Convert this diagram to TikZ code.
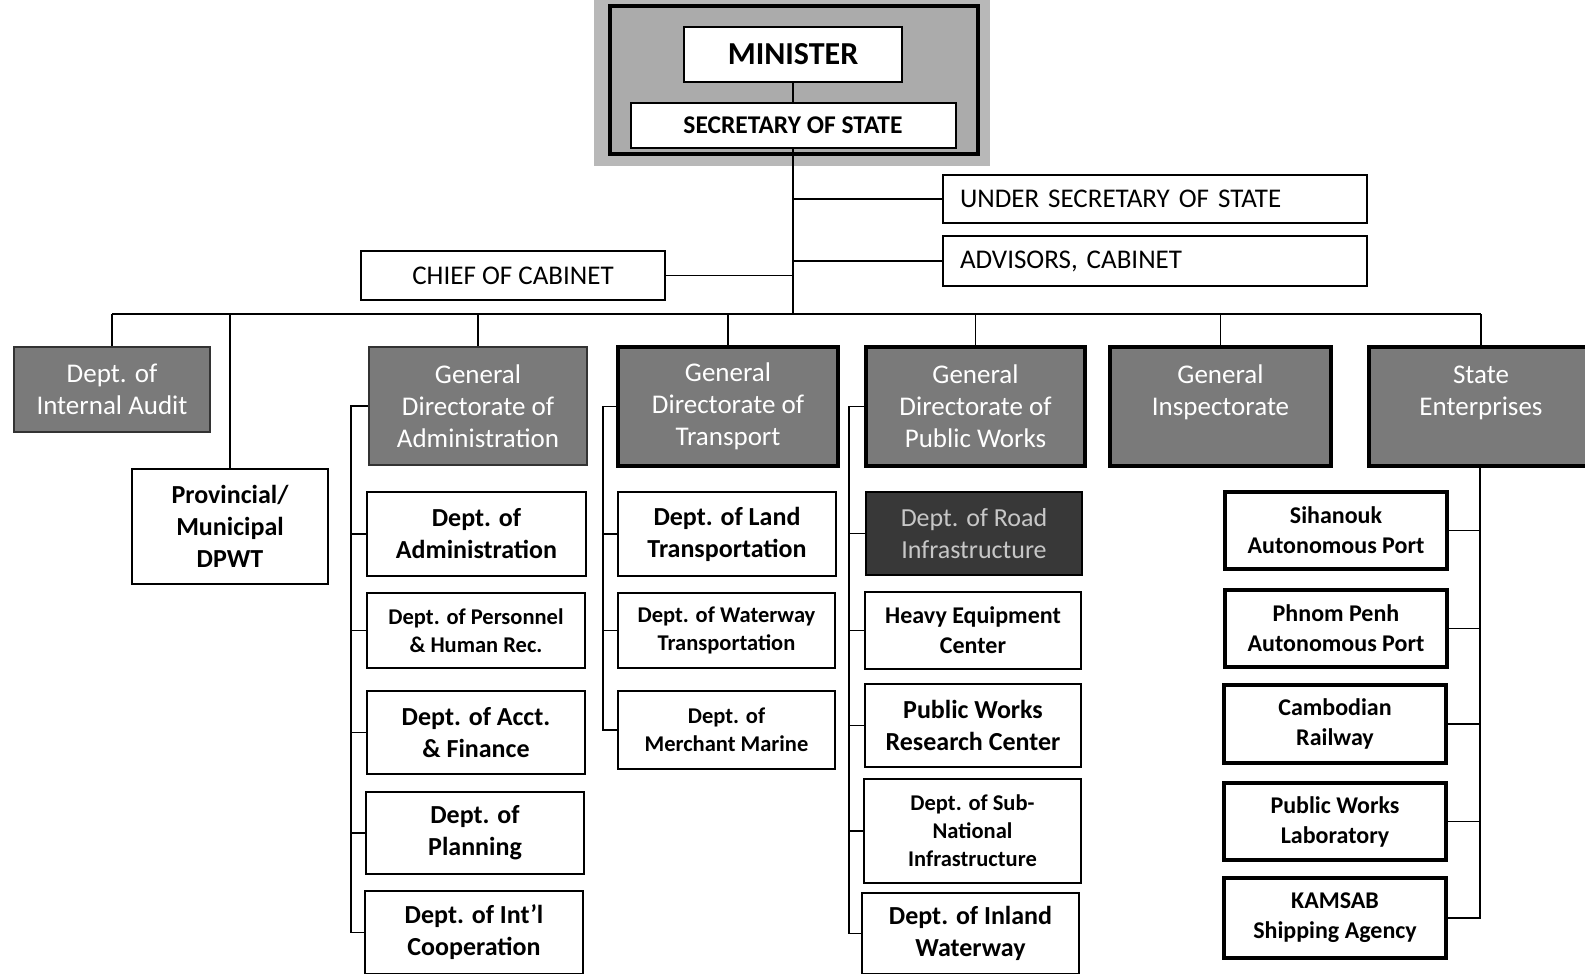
\documentclass[tikz,border=0pt]{standalone}
\usepackage{fontspec}
\setmainfont{Carlito}
\begin{document}
\begin{tikzpicture}[x=1pt,y=-1pt,
  box/.style={draw=black,line width=2pt,fill=white,align=center,inner sep=0pt,text=black},
  thickbox/.style={box,line width=3.2pt},
  capbox/.style={box,font=\fontsize{27}{32}\selectfont},
  greybox/.style={draw=black,line width=3.2pt,fill=black!52,align=center,inner sep=0pt,text=white,font=\fontsize{27}{32}\selectfont},
  greythin/.style={greybox,line width=2pt,draw=black!80},
  darkbox/.style={greybox,line width=2pt,fill=black!78,text=black!22},
  conn/.style={line width=1.6pt,draw=black},
  big/.style={font=\fontsize{26}{32}\selectfont\bfseries},
  mid/.style={font=\fontsize{24}{30}\selectfont\bfseries},
  small/.style={font=\fontsize{22.5}{28}\selectfont\bfseries},
]
\useasboundingbox (0,0) rectangle (1585,974);
\clip (0,0) rectangle (1585,974);
\fill[white] (0,0) rectangle (1585,974);

% top block
\node[fill=black!28,minimum width=396pt,minimum height=166pt,inner sep=0pt] (halo) at (792,83) {};
\node[draw=black,line width=4pt,fill=black!33,minimum width=368pt,minimum height=148pt,inner sep=0pt] (top) at (794,80) {};
\node[box,minimum width=218pt,minimum height=55pt,font=\fontsize{32}{38}\selectfont\bfseries] (min) at (793,54.5) {MINISTER};
\node[box,minimum width=325pt,minimum height=45pt,font=\fontsize{25.5}{30}\selectfont\bfseries] (sec) at (793,125.5) {SECRETARY OF STATE};

\node[capbox,minimum width=424pt,minimum height=48pt,text width=390pt,inner xsep=17pt,align=left] (under) at (1155,199) {UNDER SECRETARY OF STATE};
\node[capbox,minimum width=424pt,minimum height=50pt,text width=390pt,inner xsep=17pt,align=left] (adv) at (1155,261) {ADVISORS, CABINET};
\node[capbox,minimum width=304pt,minimum height=49pt] (chief) at (513,275.5) {CHIEF OF CABINET};

\coordinate (bus) at (0,314);
\coordinate (trunk) at (793,0);

% level 2 boxes
\node[greythin,minimum width=196pt,minimum height=85pt] (audit) at (112,389.5) {Dept. of\\Internal Audit};
\node[box,minimum width=196pt,minimum height=115pt,big] (prov) at (230,526.5) {Provincial/\\Municipal\\DPWT};
\node[greythin,minimum width=218pt,minimum height=118pt] (gda) at (478,406) {General\\Directorate of\\Administration};
\node[greybox,minimum width=220pt,minimum height=119pt] (gdt) at (728,406.5) {General\\Directorate of\\Transport};
\node[greybox,minimum width=219pt,minimum height=119pt] (gdp) at (975.5,406.5) {General\\Directorate of\\Public Works};
\node[greybox,minimum width=221pt,minimum height=119pt] (gi) at (1220.5,406.5) {General\\Inspectorate\\\mbox{}};
\node[greybox,minimum width=224pt,minimum height=119pt] (se) at (1481,406.5) {State\\Enterprises\\\mbox{}};

% administration children
\node[box,minimum width=219pt,minimum height=84pt,big] (a1) at (476.5,534) {Dept. of\\Administration};
\node[box,minimum width=218pt,minimum height=75pt,small] (a2) at (476,630.5) {Dept. of Personnel\\\& Human Rec.};
\node[box,minimum width=218pt,minimum height=83pt,big] (a3) at (476,732.5) {Dept. of Acct.\\\& Finance};
\node[box,minimum width=218pt,minimum height=82pt,big] (a4) at (475,833) {Dept. of\\Planning};
\node[box,minimum width=218pt,minimum height=83pt,big] (a5) at (474,932.5) {Dept. of Int'l\\Cooperation};

% transport children
\node[box,minimum width=218pt,minimum height=84pt,big] (t1) at (727,534) {Dept. of Land\\Transportation};
\node[box,minimum width=217pt,minimum height=75pt,small] (t2) at (726.5,630.5) {Dept. of Waterway\\Transportation};
\node[box,minimum width=217pt,minimum height=78pt,small] (t3) at (726.5,730) {Dept. of\\Merchant Marine};

% public works children
\node[darkbox,minimum width=216pt,minimum height=83pt,font=\fontsize{26}{32}\selectfont] (p1) at (974,533.5) {Dept. of Road\\Infrastructure};
\node[box,minimum width=216pt,minimum height=77pt,mid] (p2) at (973,630.5) {Heavy Equipment\\Center};
\node[box,minimum width=216pt,minimum height=83pt,big] (p3) at (973,725.5) {Public Works\\Research Center};
\node[box,minimum width=217pt,minimum height=104pt,small] (p4) at (972.5,831) {Dept. of Sub-\\National\\Infrastructure};
\node[box,minimum width=217pt,minimum height=81pt,big] (p5) at (970.5,933.5) {Dept. of Inland\\Waterway};

% state enterprises children
\node[thickbox,minimum width=222pt,minimum height=77pt,mid] (s1) at (1336,530.5) {Sihanouk\\Autonomous Port};
\node[thickbox,minimum width=222pt,minimum height=77pt,mid] (s2) at (1336,628.5) {Phnom Penh\\Autonomous Port};
\node[thickbox,minimum width=222pt,minimum height=78pt,mid] (s3) at (1335,724) {Cambodian\\Railway};
\node[thickbox,minimum width=222pt,minimum height=77pt,mid] (s4) at (1335,821.5) {Public Works\\Laboratory};
\node[thickbox,minimum width=222pt,minimum height=80pt,mid] (s5) at (1335,918) {KAMSAB\\Shipping Agency};

\coordinate (aspine) at (351,0);
\coordinate (tspine) at (603,0);
\coordinate (pspine) at (849,0);
\coordinate (sspine) at (1480,0);

% connectors
\draw[conn] (min.south) -- (sec.north);
\draw[conn] (sec.south) -- (sec.south |- bus);
\draw[conn] (under.west) -- (under.west -| trunk);
\draw[conn] (adv.west) -- (adv.west -| trunk);
\draw[conn] (chief.east) -- (chief.east -| trunk);
\draw[conn] (audit.north |- bus) -- (se.north |- bus);
\foreach \n in {audit,prov,gda,gdt,gdp,gi,se} {
  \draw[conn] (\n.north |- bus) -- (\n.north);
}
\draw[conn] (gda.west) -- (gda.west -| aspine) |- (a5.west);
\foreach \n in {a1,a2,a3,a4} { \draw[conn] (\n.west) -- (\n.west -| aspine); }
\draw[conn] (gdt.west) -- (gdt.west -| tspine) |- (t3.west);
\foreach \n in {t1,t2} { \draw[conn] (\n.west) -- (\n.west -| tspine); }
\draw[conn] (gdp.west) -- (gdp.west -| pspine) |- (p5.west);
\foreach \n in {p1,p2,p3,p4} { \draw[conn] (\n.west) -- (\n.west -| pspine); }
\draw[conn] (se.south -| sspine) |- (s5.east);
\foreach \n in {s1,s2,s3,s4} { \draw[conn] (\n.east) -- (\n.east -| sspine); }
\end{tikzpicture}
\end{document}
